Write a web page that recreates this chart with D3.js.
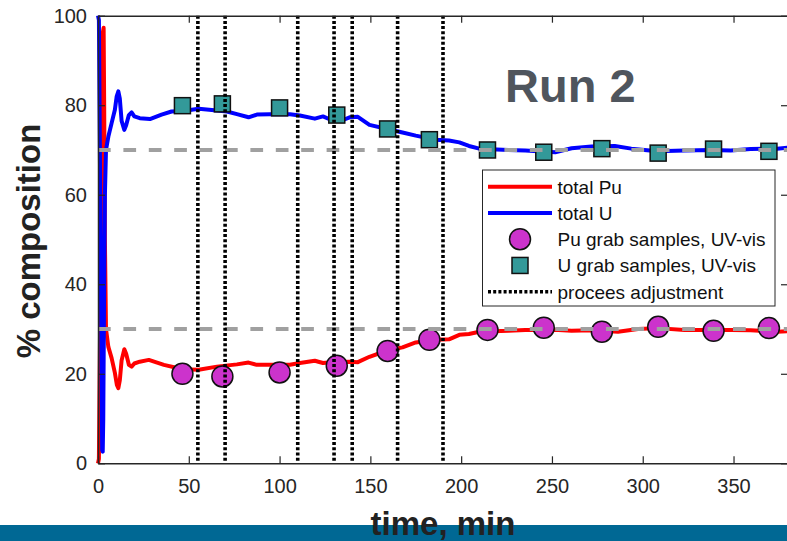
<!DOCTYPE html>
<html>
<head>
<meta charset="utf-8">
<script src="https://cdn.jsdelivr.net/npm/d3@7"></script>
<style>
  body { margin: 0; background: #fff; }
  svg { display: block; }
</style>
</head>
<body>
<div id="chart"></div>
<script>
// total U (blue curve)
const uTime = [0, 0.5, 2.3, 2.6, 2.9, 3.3, 3.8, 4.4, 5.7, 7.5, 9.3, 10.3, 11.2, 12, 13, 14.5, 15.5, 17, 18.5, 20, 23, 28.6, 35, 40.5,
  46.7, 55.5, 65.5, 71, 76.5, 82.9, 87.5, 94.7, 105.7, 111.2, 119.4, 123.9, 128.5, 134.9, 138.6, 143.1, 149.5, 159.2, 167.7,
  175, 186, 193.3, 199, 204.3, 210, 226, 235.3, 251.8, 260.8, 271.8, 284.6, 293.7, 308.3, 322.9, 337.5, 348.5, 359.4, 374, 380];
const uValue = [100, 99, 3, 2.6, 10, 35, 60, 70, 73, 76, 79, 82, 83.1, 81.5, 76.5, 74.5, 75.5, 77.8, 78.4, 77.5, 77.1, 76.9, 77.9, 78.6,
  78.7, 79.2, 78.8, 78.6, 78.0, 77.3, 77.9, 78.0, 78.0, 77.7, 77.0, 77.5, 76.7, 76.7, 77.3, 77.4, 75.6, 74.7, 73.9,
  73.2, 72.3, 72.1, 71.7, 70.9, 70.3, 70.0, 69.9, 69.5, 70.4, 70.8, 70.9, 70.3, 69.7, 69.9, 70.0, 69.9, 70.2, 70.3, 70.5];

// total Pu (red curve)
const puTime = [0, 0.5, 2.6, 3.1, 3.4, 3.8, 4.4, 5.7, 7.5, 9.3, 10.4, 11.2, 12, 13, 14.5, 15.5, 17, 18.5, 20, 23, 28, 36.3,
  46.7, 55.5, 65.5, 76.5, 82.9, 87.5, 94.7, 105.7, 111.2, 119.4, 123.9, 128.5, 138.6, 143.1, 149.5, 159.2, 167.7,
  175, 186, 193.3, 199, 204.3, 210, 226, 235.3, 253.6, 260.8, 271.8, 286.4, 297.4, 308.3, 322.9, 348.5, 359.4, 374, 380];
const puValue = [0, 1, 96, 97.3, 80, 50, 30, 26, 23.5, 20.2, 17.5, 16.8, 18.5, 23, 25.5, 24.5, 22, 21.6, 22.3, 22.7, 23.1, 22.0,
  21.0, 20.9, 21.6, 22.1, 22.5, 22.0, 22.0, 22.0, 22.4, 22.9, 22.4, 22.6, 22.7, 22.6, 23.8, 25.2, 25.9,
  27.0, 27.6, 27.7, 28.7, 28.9, 29.4, 29.6, 29.8, 29.8, 29.6, 29.7, 29.4, 30.0, 30.2, 29.8, 29.8, 29.7, 29.4, 29.5];

// grab samples
const sampleTime = [46.5, 68.5, 100, 131.5, 159.5, 182.5, 214.5, 245.5, 277.5, 308.5, 339, 369.5];
const puSample = [20.0, 19.4, 20.3, 21.8, 25.1, 27.6, 29.8, 30.3, 29.4, 30.5, 29.6, 30.2];
const uSample = [79.9, 80.3, 79.4, 77.8, 74.7, 72.3, 70.0, 69.5, 70.3, 69.3, 70.2, 69.7];

const adjustTime = [55, 70, 110, 130, 140, 165, 190];
const targetLevels = [70, 30];

const xTicks = [0, 50, 100, 150, 200, 250, 300, 350];
const yTicks = [0, 20, 40, 60, 80, 100];

const legendLabels = ["total Pu", "total U", "Pu grab samples, UV-vis", "U grab samples, UV-vis", "procees adjustment"];

const W = 787, H = 541;
const font = "'Liberation Sans', Arial, sans-serif";
const axisColor = "#262626";

const svg = d3.select("#chart").append("svg")
  .attr("width", W)
  .attr("height", H)
  .style("font-family", font);

const x = d3.scaleLinear().domain([0, 380]).range([98, 788]);
const y = d3.scaleLinear().domain([0, 100]).range([463.3, 15.7]);

// bottom band
svg.append("rect")
  .attr("x", 0).attr("y", 525).attr("width", W).attr("height", H - 525)
  .attr("fill", "#006894");

// curves
const line = d3.line().x(d => x(d[0])).y(d => y(d[1]));

svg.append("path")
  .datum(puTime.map((t, i) => [t, puValue[i]]))
  .attr("d", line)
  .attr("fill", "none")
  .attr("stroke", "#ff0000")
  .attr("stroke-width", 4)
  .attr("stroke-linejoin", "round");

svg.append("path")
  .datum(uTime.map((t, i) => [t, uValue[i]]))
  .attr("d", line)
  .attr("fill", "none")
  .attr("stroke", "#0000ff")
  .attr("stroke-width", 4)
  .attr("stroke-linejoin", "round");

// samples
svg.append("g").selectAll("circle")
  .data(sampleTime)
  .enter()
  .append("circle")
  .attr("cx", d => x(d))
  .attr("cy", (d, i) => y(puSample[i]))
  .attr("r", 10.5)
  .attr("fill", "#cc33cc")
  .attr("stroke", "#111")
  .attr("stroke-width", 1.5);

const sq = 16;
svg.append("g").selectAll("rect")
  .data(sampleTime)
  .enter()
  .append("rect")
  .attr("x", d => x(d) - sq / 2)
  .attr("y", (d, i) => y(uSample[i]) - sq / 2)
  .attr("width", sq)
  .attr("height", sq)
  .attr("fill", "#339999")
  .attr("stroke", "#111")
  .attr("stroke-width", 1.5);

// target levels
svg.append("g").selectAll("line")
  .data(targetLevels)
  .enter()
  .append("line")
  .attr("x1", x(0)).attr("x2", x(380))
  .attr("y1", d => y(d)).attr("y2", d => y(d))
  .attr("stroke", "#a0a0a0")
  .attr("stroke-width", 4)
  .attr("stroke-dasharray", "12.7 12.7");

// process adjustments
svg.append("g").selectAll("line")
  .data(adjustTime)
  .enter()
  .append("line")
  .attr("x1", d => x(d)).attr("x2", d => x(d))
  .attr("y1", y(100)).attr("y2", y(0))
  .attr("stroke", "#000")
  .attr("stroke-width", 3.6)
  .attr("stroke-dasharray", "3 2.2");

// axes
const styleAxis = g => {
  g.select(".domain").attr("stroke", axisColor).attr("stroke-width", 1.5);
  g.selectAll(".tick line").attr("stroke", axisColor).attr("stroke-width", 1.2);
  g.selectAll(".tick text").attr("fill", axisColor).style("font-size", "20px").style("font-family", font);
};

svg.append("g")
  .attr("transform", `translate(0,${y(0)})`)
  .call(d3.axisBottom(x).tickValues(xTicks).tickSize(-7).tickPadding(16).tickSizeOuter(0))
  .call(styleAxis);

svg.append("g")
  .attr("transform", `translate(0,${y(100)})`)
  .call(d3.axisTop(x).tickValues(xTicks).tickSize(-7).tickFormat("").tickSizeOuter(0))
  .call(styleAxis);

svg.append("g")
  .attr("transform", `translate(${x(0)},0)`)
  .call(d3.axisLeft(y).tickValues(yTicks).tickSize(-7).tickPadding(11).tickSizeOuter(0))
  .call(styleAxis);

svg.append("g")
  .attr("transform", `translate(${x(380)},0)`)
  .call(d3.axisRight(y).tickValues(yTicks).tickSize(-7).tickFormat("").tickSizeOuter(0))
  .call(styleAxis);

// axis titles
svg.append("text")
  .attr("transform", "translate(40,241) rotate(-90)")
  .attr("text-anchor", "middle")
  .attr("fill", "#222")
  .style("font-size", "33px")
  .style("font-weight", "bold")
  .text("% composition");

svg.append("text")
  .attr("x", 443)
  .attr("y", 535)
  .attr("text-anchor", "middle")
  .attr("fill", "#222")
  .style("font-size", "33px")
  .style("font-weight", "bold")
  .text("time, min");

svg.append("text")
  .attr("x", 505)
  .attr("y", 101.5)
  .attr("fill", "#4f555d")
  .style("font-size", "47px")
  .style("font-weight", "bold")
  .text("Run 2");

// legend
const lg = svg.append("g");
lg.append("rect")
  .attr("x", 482.5).attr("y", 170).attr("width", 292.5).attr("height", 136)
  .attr("fill", "#fff")
  .attr("stroke", axisColor)
  .attr("stroke-width", 1);

const rowY = i => 186.7 + i * 26.25;

lg.append("line").attr("x1", 488).attr("x2", 552).attr("y1", rowY(0)).attr("y2", rowY(0))
  .attr("stroke", "#ff0000").attr("stroke-width", 4);
lg.append("line").attr("x1", 488).attr("x2", 552).attr("y1", rowY(1)).attr("y2", rowY(1))
  .attr("stroke", "#0000ff").attr("stroke-width", 4);
lg.append("circle").attr("cx", 520).attr("cy", rowY(2)).attr("r", 10.5)
  .attr("fill", "#cc33cc").attr("stroke", "#111").attr("stroke-width", 1.5);
lg.append("rect").attr("x", 520 - sq / 2).attr("y", rowY(3) - sq / 2).attr("width", sq).attr("height", sq)
  .attr("fill", "#339999").attr("stroke", "#111").attr("stroke-width", 1.5);
lg.append("line").attr("x1", 488).attr("x2", 552).attr("y1", rowY(4)).attr("y2", rowY(4))
  .attr("stroke", "#000").attr("stroke-width", 3.6).attr("stroke-dasharray", "3 2.2");

lg.selectAll("text")
  .data(legendLabels)
  .enter()
  .append("text")
  .attr("x", 557.5)
  .attr("y", (d, i) => rowY(i))
  .attr("dy", "0.36em")
  .attr("fill", "#111")
  .style("font-size", "19px")
  .text(d => d);
</script>
</body>
</html>
